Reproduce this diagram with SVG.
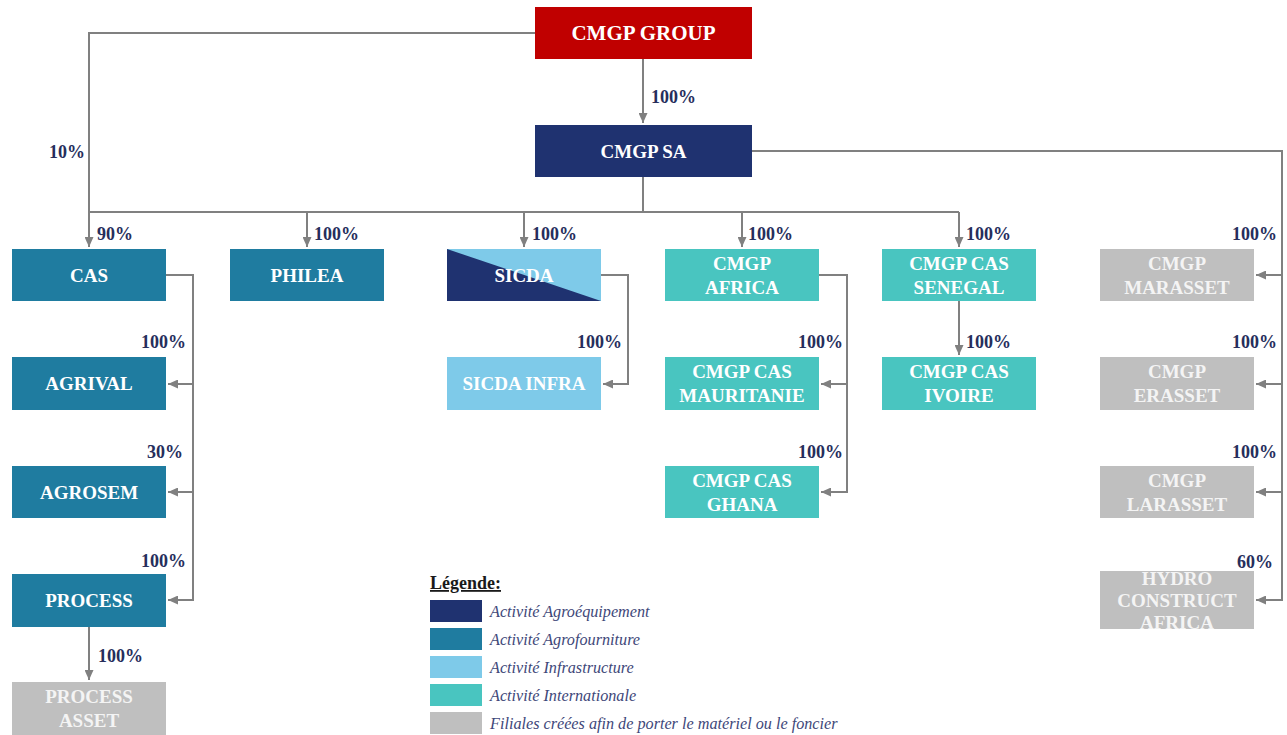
<svg xmlns="http://www.w3.org/2000/svg" width="1287" height="735" viewBox="0 0 1287 735">
<style>
.n{font-family:"Liberation Serif",serif;font-weight:bold;font-size:19px;fill:#ffffff;text-anchor:middle}
.g{fill:#F4F4F4}
.p{font-family:"Liberation Serif",serif;font-weight:bold;font-size:18px;fill:#262E5C}
.e{text-anchor:end}
.c{fill:none;stroke:#808080;stroke-width:2}
.lg{font-family:"Liberation Serif",serif;font-style:italic;font-size:16.2px;fill:#3E4779}
.red{fill:#C00000}.navy{fill:#1F3270}.blue{fill:#1F7CA0}.light{fill:#7ECAE9}.turq{fill:#49C5C0}.grey{fill:#BFBFBF}
</style>
<defs>
<marker id="arr" markerUnits="userSpaceOnUse" markerWidth="10" markerHeight="9" refX="10" refY="4.5" orient="auto">
<path d="M0,0 L10,4.5 L0,9 z" fill="#808080"/>
</marker>
</defs>
<rect width="1287" height="735" fill="#ffffff"/>

<g id="connectors">
<path class="c" d="M535,33 H89 V247" marker-end="url(#arr)"/>
<path class="c" d="M643,59 V123" marker-end="url(#arr)"/>
<path class="c" d="M643,177 V212 H89"/>
<path class="c" d="M643,212 H959"/>
<path class="c" d="M307,212 V247" marker-end="url(#arr)"/>
<path class="c" d="M524,212 V247" marker-end="url(#arr)"/>
<path class="c" d="M742,212 V247" marker-end="url(#arr)"/>
<path class="c" d="M959,212 V247" marker-end="url(#arr)"/>
<path class="c" d="M166,275 H193 V600 H168" marker-end="url(#arr)"/>
<path class="c" d="M193,384 H168" marker-end="url(#arr)"/>
<path class="c" d="M193,492 H168" marker-end="url(#arr)"/>
<path class="c" d="M89,627 V680" marker-end="url(#arr)"/>
<path class="c" d="M601,275 H628 V384 H603" marker-end="url(#arr)"/>
<path class="c" d="M819,275 H847 V492 H821" marker-end="url(#arr)"/>
<path class="c" d="M847,384 H821" marker-end="url(#arr)"/>
<path class="c" d="M959,301 V355" marker-end="url(#arr)"/>
<path class="c" d="M752,151 H1282 V600 H1256" marker-end="url(#arr)"/>
<path class="c" d="M1282,275 H1256" marker-end="url(#arr)"/>
<path class="c" d="M1282,384 H1256" marker-end="url(#arr)"/>
<path class="c" d="M1282,492 H1256" marker-end="url(#arr)"/>
</g>

<g id="labels">
<text class="p" x="651" y="103">100%</text>
<text class="p" x="49" y="158">10%</text>
<text class="p" x="97" y="240">90%</text>
<text class="p" x="314" y="240">100%</text>
<text class="p" x="532" y="240">100%</text>
<text class="p" x="748" y="240">100%</text>
<text class="p" x="966" y="240">100%</text>
<text class="p e" x="1277" y="240">100%</text>
<text class="p e" x="1277" y="348">100%</text>
<text class="p e" x="1277" y="458">100%</text>
<text class="p e" x="1273" y="568">60%</text>
<text class="p e" x="186" y="348">100%</text>
<text class="p e" x="183" y="458">30%</text>
<text class="p e" x="186" y="567">100%</text>
<text class="p" x="98" y="662">100%</text>
<text class="p e" x="622" y="348">100%</text>
<text class="p e" x="843" y="348">100%</text>
<text class="p e" x="843" y="458">100%</text>
<text class="p" x="966" y="348">100%</text>
</g>

<g id="cmgp-group"><rect class="red" x="535" y="7" width="217" height="52"/><text class="n" x="643.5" y="40" style="font-size:21px">CMGP GROUP</text></g>
<g id="cmgp-sa"><rect class="navy" x="535" y="125" width="217" height="52"/><text class="n" x="643.5" y="158">CMGP SA</text></g>

<g id="cas"><rect class="blue" x="12" y="249" width="154" height="52"/><text class="n" x="89" y="281.5">CAS</text></g>
<g id="philea"><rect class="blue" x="230" y="249" width="154" height="52"/><text class="n" x="307" y="281.5">PHILEA</text></g>
<g id="sicda"><rect class="light" x="447" y="249" width="154" height="52"/><polygon class="navy" points="447,249 601,301 447,301"/><text class="n" x="524" y="281.5">SICDA</text></g>
<g id="cmgp-africa"><rect class="turq" x="665" y="249" width="154" height="52"/><text class="n" x="742" y="269.5">CMGP</text><text class="n" x="742" y="293.5">AFRICA</text></g>
<g id="cmgp-cas-senegal"><rect class="turq" x="882" y="249" width="154" height="52"/><text class="n" x="959" y="269.5">CMGP CAS</text><text class="n" x="959" y="293.5">SENEGAL</text></g>
<g id="cmgp-marasset"><rect class="grey" x="1100" y="249" width="154" height="52"/><text class="n g" x="1177" y="269.5">CMGP</text><text class="n g" x="1177" y="293.5">MARASSET</text></g>

<g id="agrival"><rect class="blue" x="12" y="357" width="154" height="53"/><text class="n" x="89" y="390">AGRIVAL</text></g>
<g id="sicda-infra"><rect class="light" x="447" y="357" width="154" height="53"/><text class="n" x="524" y="390">SICDA INFRA</text></g>
<g id="cmgp-cas-mauritanie"><rect class="turq" x="665" y="357" width="154" height="53"/><text class="n" x="742" y="378">CMGP CAS</text><text class="n" x="742" y="402">MAURITANIE</text></g>
<g id="cmgp-cas-ivoire"><rect class="turq" x="882" y="357" width="154" height="53"/><text class="n" x="959" y="378">CMGP CAS</text><text class="n" x="959" y="402">IVOIRE</text></g>
<g id="cmgp-erasset"><rect class="grey" x="1100" y="357" width="154" height="53"/><text class="n g" x="1177" y="378">CMGP</text><text class="n g" x="1177" y="402">ERASSET</text></g>

<g id="agrosem"><rect class="blue" x="12" y="466" width="154" height="52"/><text class="n" x="89" y="498.5">AGROSEM</text></g>
<g id="cmgp-cas-ghana"><rect class="turq" x="665" y="466" width="154" height="52"/><text class="n" x="742" y="486.5">CMGP CAS</text><text class="n" x="742" y="510.5">GHANA</text></g>
<g id="cmgp-larasset"><rect class="grey" x="1100" y="466" width="154" height="52"/><text class="n g" x="1177" y="486.5">CMGP</text><text class="n g" x="1177" y="510.5">LARASSET</text></g>

<g id="process"><rect class="blue" x="12" y="574" width="154" height="53"/><text class="n" x="89" y="607">PROCESS</text></g>
<g id="hydro-construct-africa"><rect class="grey" x="1100" y="571" width="154" height="58"/><text class="n g" x="1177" y="584.5">HYDRO</text><text class="n g" x="1177" y="606.5">CONSTRUCT</text><text class="n g" x="1177" y="628.5">AFRICA</text></g>

<g id="process-asset"><rect class="grey" x="12" y="682" width="154" height="53"/><text class="n g" x="89" y="703">PROCESS</text><text class="n g" x="89" y="727">ASSET</text></g>

<g id="legend">
<text x="430" y="589" style="font-family:'Liberation Serif',serif;font-weight:bold;font-size:18px;fill:#1a1a1a;text-decoration:underline">Légende:</text>
<rect class="navy" x="430" y="600" width="52" height="22"/>
<rect class="blue" x="430" y="628" width="52" height="22"/>
<rect class="light" x="430" y="656" width="52" height="22"/>
<rect class="turq" x="430" y="684" width="52" height="22"/>
<rect class="grey" x="430" y="712" width="52" height="22"/>
<text class="lg" x="490" y="617">Activité Agroéquipement</text>
<text class="lg" x="490" y="645">Activité Agrofourniture</text>
<text class="lg" x="490" y="673">Activité Infrastructure</text>
<text class="lg" x="490" y="701">Activité Internationale</text>
<text class="lg" x="490" y="729">Filiales créées afin de porter le matériel ou le foncier</text>
</g>
</svg>
